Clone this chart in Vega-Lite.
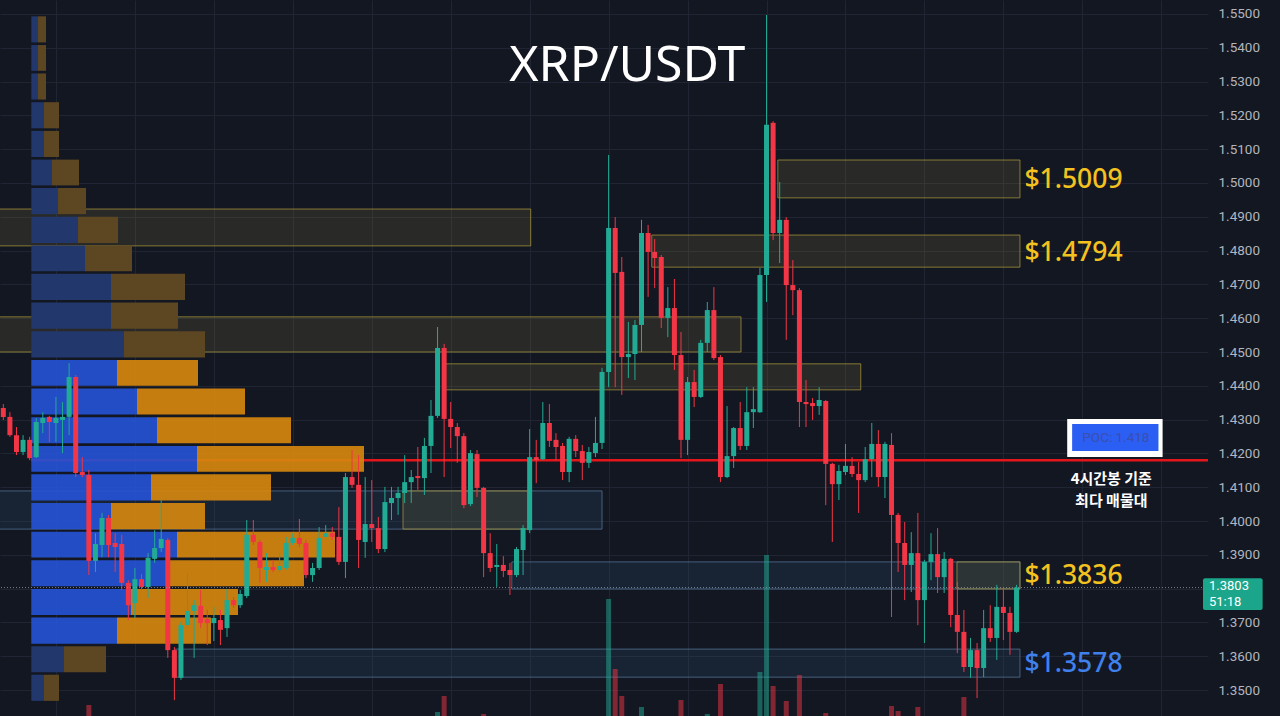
{
"$schema": "https://vega.github.io/schema/vega-lite/v6.json",
"width": 1208, "height": 716,
"autosize": {"type": "none"},
"padding": {"left": 0, "top": 0, "right": 72, "bottom": 0},
"background": "#131722",
"config": {"view": {"stroke": null}, "axis": {"domain": false, "ticks": false, "title": null}},
"datasets": {
"candles": [
{"i":0,"o":1.4334,"h":1.4346,"l":1.4299,"c":1.4308},
{"i":1,"o":1.4308,"h":1.4322,"l":1.4249,"c":1.4254},
{"i":2,"o":1.4254,"h":1.4278,"l":1.4195,"c":1.4204},
{"i":3,"o":1.4204,"h":1.4254,"l":1.4195,"c":1.4240},
{"i":4,"o":1.4240,"h":1.4249,"l":1.4180,"c":1.4186},
{"i":5,"o":1.4189,"h":1.4305,"l":1.4186,"c":1.4293},
{"i":6,"o":1.4290,"h":1.4322,"l":1.4260,"c":1.4305},
{"i":7,"o":1.4308,"h":1.4311,"l":1.4234,"c":1.4293},
{"i":8,"o":1.4290,"h":1.4367,"l":1.4234,"c":1.4305},
{"i":9,"o":1.4299,"h":1.4352,"l":1.4201,"c":1.4308},
{"i":10,"o":1.4308,"h":1.4467,"l":1.4254,"c":1.4426},
{"i":11,"o":1.4426,"h":1.4432,"l":1.4130,"c":1.4142},
{"i":12,"o":1.4145,"h":1.4189,"l":1.4130,"c":1.4136},
{"i":13,"o":1.4136,"h":1.4151,"l":1.3840,"c":1.3882},
{"i":14,"o":1.3882,"h":1.3964,"l":1.3849,"c":1.3932},
{"i":15,"o":1.3929,"h":1.4024,"l":1.3893,"c":1.4009},
{"i":16,"o":1.4009,"h":1.4018,"l":1.3893,"c":1.3929},
{"i":17,"o":1.3935,"h":1.3964,"l":1.3849,"c":1.3923},
{"i":18,"o":1.3932,"h":1.3959,"l":1.3796,"c":1.3817},
{"i":19,"o":1.3817,"h":1.3825,"l":1.3707,"c":1.3751},
{"i":20,"o":1.3757,"h":1.3861,"l":1.3713,"c":1.3828},
{"i":21,"o":1.3828,"h":1.3843,"l":1.3796,"c":1.3805},
{"i":22,"o":1.3805,"h":1.3905,"l":1.3772,"c":1.3891},
{"i":23,"o":1.3888,"h":1.3973,"l":1.3876,"c":1.3920},
{"i":24,"o":1.3920,"h":1.4062,"l":1.3908,"c":1.3947},
{"i":25,"o":1.3944,"h":1.3950,"l":1.3595,"c":1.3618},
{"i":26,"o":1.3618,"h":1.3627,"l":1.3470,"c":1.3536},
{"i":27,"o":1.3536,"h":1.3701,"l":1.3530,"c":1.3692},
{"i":28,"o":1.3692,"h":1.3846,"l":1.3683,"c":1.3734},
{"i":29,"o":1.3734,"h":1.3766,"l":1.3595,"c":1.3751},
{"i":30,"o":1.3749,"h":1.3796,"l":1.3683,"c":1.3698},
{"i":31,"o":1.3710,"h":1.3737,"l":1.3633,"c":1.3698},
{"i":32,"o":1.3698,"h":1.3746,"l":1.3645,"c":1.3713},
{"i":33,"o":1.3707,"h":1.3737,"l":1.3633,"c":1.3678},
{"i":34,"o":1.3683,"h":1.3799,"l":1.3657,"c":1.3766},
{"i":35,"o":1.3766,"h":1.3775,"l":1.3743,"c":1.3751},
{"i":36,"o":1.3751,"h":1.3796,"l":1.3743,"c":1.3784},
{"i":37,"o":1.3778,"h":1.4003,"l":1.3772,"c":1.3959},
{"i":38,"o":1.3959,"h":1.4003,"l":1.3929,"c":1.3938},
{"i":39,"o":1.3938,"h":1.3944,"l":1.3817,"c":1.3861},
{"i":40,"o":1.3855,"h":1.3905,"l":1.3820,"c":1.3864},
{"i":41,"o":1.3864,"h":1.3885,"l":1.3849,"c":1.3855},
{"i":42,"o":1.3855,"h":1.3905,"l":1.3849,"c":1.3867},
{"i":43,"o":1.3861,"h":1.3953,"l":1.3855,"c":1.3935},
{"i":44,"o":1.3935,"h":1.3964,"l":1.3929,"c":1.3950},
{"i":45,"o":1.3950,"h":1.4006,"l":1.3923,"c":1.3932},
{"i":46,"o":1.3935,"h":1.3944,"l":1.3831,"c":1.3840},
{"i":47,"o":1.3840,"h":1.3876,"l":1.3820,"c":1.3861},
{"i":48,"o":1.3861,"h":1.3982,"l":1.3855,"c":1.3950},
{"i":49,"o":1.3953,"h":1.3988,"l":1.3950,"c":1.3964},
{"i":50,"o":1.3964,"h":1.3982,"l":1.3944,"c":1.3953},
{"i":51,"o":1.3953,"h":1.4041,"l":1.3870,"c":1.3879},
{"i":52,"o":1.3879,"h":1.4142,"l":1.3831,"c":1.4130},
{"i":53,"o":1.4130,"h":1.4210,"l":1.4098,"c":1.4107},
{"i":54,"o":1.4107,"h":1.4195,"l":1.3861,"c":1.3944},
{"i":55,"o":1.3938,"h":1.4130,"l":1.3891,"c":1.3991},
{"i":56,"o":1.3991,"h":1.4121,"l":1.3938,"c":1.3979},
{"i":57,"o":1.3979,"h":1.4012,"l":1.3905,"c":1.3917},
{"i":58,"o":1.3917,"h":1.4101,"l":1.3908,"c":1.4056},
{"i":59,"o":1.4053,"h":1.4101,"l":1.4003,"c":1.4068},
{"i":60,"o":1.4068,"h":1.4101,"l":1.4018,"c":1.4083},
{"i":61,"o":1.4083,"h":1.4195,"l":1.4053,"c":1.4115},
{"i":62,"o":1.4115,"h":1.4151,"l":1.4053,"c":1.4130},
{"i":63,"o":1.4133,"h":1.4219,"l":1.4092,"c":1.4127},
{"i":64,"o":1.4127,"h":1.4246,"l":1.4077,"c":1.4222},
{"i":65,"o":1.4222,"h":1.4358,"l":1.4142,"c":1.4311},
{"i":66,"o":1.4311,"h":1.4574,"l":1.4305,"c":1.4512},
{"i":67,"o":1.4512,"h":1.4524,"l":1.4130,"c":1.4302},
{"i":68,"o":1.4302,"h":1.4352,"l":1.4216,"c":1.4278},
{"i":69,"o":1.4278,"h":1.4290,"l":1.4172,"c":1.4251},
{"i":70,"o":1.4251,"h":1.4260,"l":1.4038,"c":1.4047},
{"i":71,"o":1.4050,"h":1.4210,"l":1.4044,"c":1.4201},
{"i":72,"o":1.4198,"h":1.4210,"l":1.4071,"c":1.4098},
{"i":73,"o":1.4098,"h":1.4101,"l":1.3834,"c":1.3905},
{"i":74,"o":1.3905,"h":1.3964,"l":1.3849,"c":1.3861},
{"i":75,"o":1.3864,"h":1.3932,"l":1.3805,"c":1.3870},
{"i":76,"o":1.3870,"h":1.3896,"l":1.3834,"c":1.3852},
{"i":77,"o":1.3855,"h":1.3876,"l":1.3781,"c":1.3840},
{"i":78,"o":1.3840,"h":1.3923,"l":1.3834,"c":1.3917},
{"i":79,"o":1.3914,"h":1.3988,"l":1.3840,"c":1.3979},
{"i":80,"o":1.3973,"h":1.4272,"l":1.3964,"c":1.4189},
{"i":81,"o":1.4189,"h":1.4240,"l":1.4112,"c":1.4180},
{"i":82,"o":1.4183,"h":1.4352,"l":1.4180,"c":1.4290},
{"i":83,"o":1.4290,"h":1.4346,"l":1.4219,"c":1.4237},
{"i":84,"o":1.4240,"h":1.4260,"l":1.4180,"c":1.4219},
{"i":85,"o":1.4222,"h":1.4231,"l":1.4121,"c":1.4145},
{"i":86,"o":1.4145,"h":1.4249,"l":1.4115,"c":1.4243},
{"i":87,"o":1.4243,"h":1.4254,"l":1.4189,"c":1.4207},
{"i":88,"o":1.4207,"h":1.4225,"l":1.4121,"c":1.4172},
{"i":89,"o":1.4172,"h":1.4219,"l":1.4157,"c":1.4204},
{"i":90,"o":1.4201,"h":1.4308,"l":1.4189,"c":1.4231},
{"i":91,"o":1.4231,"h":1.4453,"l":1.4213,"c":1.4441},
{"i":92,"o":1.4441,"h":1.5083,"l":1.4396,"c":1.4867},
{"i":93,"o":1.4867,"h":1.4899,"l":1.4396,"c":1.4734},
{"i":94,"o":1.4737,"h":1.4781,"l":1.4373,"c":1.4485},
{"i":95,"o":1.4485,"h":1.4589,"l":1.4423,"c":1.4494},
{"i":96,"o":1.4494,"h":1.4595,"l":1.4417,"c":1.4580},
{"i":97,"o":1.4580,"h":1.4891,"l":1.4500,"c":1.4852},
{"i":98,"o":1.4852,"h":1.4876,"l":1.4663,"c":1.4796},
{"i":99,"o":1.4796,"h":1.4834,"l":1.4689,"c":1.4778},
{"i":100,"o":1.4781,"h":1.4787,"l":1.4571,"c":1.4601},
{"i":101,"o":1.4601,"h":1.4692,"l":1.4544,"c":1.4630},
{"i":102,"o":1.4630,"h":1.4716,"l":1.4447,"c":1.4491},
{"i":103,"o":1.4491,"h":1.4559,"l":1.4186,"c":1.4240},
{"i":104,"o":1.4240,"h":1.4426,"l":1.4195,"c":1.4411},
{"i":105,"o":1.4411,"h":1.4447,"l":1.4337,"c":1.4367},
{"i":106,"o":1.4367,"h":1.4536,"l":1.4364,"c":1.4527},
{"i":107,"o":1.4527,"h":1.4648,"l":1.4500,"c":1.4624},
{"i":108,"o":1.4624,"h":1.4692,"l":1.4476,"c":1.4482},
{"i":109,"o":1.4485,"h":1.4491,"l":1.4115,"c":1.4130},
{"i":110,"o":1.4130,"h":1.4340,"l":1.4127,"c":1.4192},
{"i":111,"o":1.4192,"h":1.4278,"l":1.4157,"c":1.4275},
{"i":112,"o":1.4275,"h":1.4352,"l":1.4210,"c":1.4222},
{"i":113,"o":1.4222,"h":1.4396,"l":1.4210,"c":1.4322},
{"i":114,"o":1.4322,"h":1.4396,"l":1.4275,"c":1.4331},
{"i":115,"o":1.4322,"h":1.4749,"l":1.4320,"c":1.4728},
{"i":116,"o":1.4728,"h":1.5497,"l":1.4648,"c":1.5172},
{"i":117,"o":1.5178,"h":1.5183,"l":1.4831,"c":1.4852},
{"i":118,"o":1.4852,"h":1.5003,"l":1.4763,"c":1.4891},
{"i":119,"o":1.4891,"h":1.4899,"l":1.4536,"c":1.4698},
{"i":120,"o":1.4698,"h":1.4772,"l":1.4609,"c":1.4683},
{"i":121,"o":1.4683,"h":1.4689,"l":1.4278,"c":1.4352},
{"i":122,"o":1.4352,"h":1.4417,"l":1.4278,"c":1.4346},
{"i":123,"o":1.4349,"h":1.4364,"l":1.4299,"c":1.4340},
{"i":124,"o":1.4340,"h":1.4396,"l":1.4314,"c":1.4358},
{"i":125,"o":1.4355,"h":1.4358,"l":1.4047,"c":1.4169},
{"i":126,"o":1.4169,"h":1.4172,"l":1.3938,"c":1.4109},
{"i":127,"o":1.4109,"h":1.4166,"l":1.4062,"c":1.4148},
{"i":128,"o":1.4145,"h":1.4228,"l":1.4136,"c":1.4163},
{"i":129,"o":1.4163,"h":1.4189,"l":1.4130,"c":1.4139},
{"i":130,"o":1.4139,"h":1.4175,"l":1.4024,"c":1.4121},
{"i":131,"o":1.4121,"h":1.4219,"l":1.4115,"c":1.4183},
{"i":132,"o":1.4183,"h":1.4290,"l":1.4130,"c":1.4228},
{"i":133,"o":1.4228,"h":1.4269,"l":1.4101,"c":1.4130},
{"i":134,"o":1.4130,"h":1.4234,"l":1.4068,"c":1.4228},
{"i":135,"o":1.4225,"h":1.4260,"l":1.3716,"c":1.4018},
{"i":136,"o":1.4018,"h":1.4024,"l":1.3849,"c":1.3935},
{"i":137,"o":1.3935,"h":1.3997,"l":1.3766,"c":1.3870},
{"i":138,"o":1.3870,"h":1.3967,"l":1.3790,"c":1.3905},
{"i":139,"o":1.3905,"h":1.4024,"l":1.3692,"c":1.3766},
{"i":140,"o":1.3766,"h":1.3885,"l":1.3639,"c":1.3879},
{"i":141,"o":1.3879,"h":1.3964,"l":1.3825,"c":1.3902},
{"i":142,"o":1.3902,"h":1.3979,"l":1.3787,"c":1.3834},
{"i":143,"o":1.3834,"h":1.3908,"l":1.3787,"c":1.3888},
{"i":144,"o":1.3888,"h":1.3891,"l":1.3686,"c":1.3722},
{"i":145,"o":1.3722,"h":1.3820,"l":1.3609,"c":1.3672},
{"i":146,"o":1.3672,"h":1.3737,"l":1.3553,"c":1.3568},
{"i":147,"o":1.3568,"h":1.3654,"l":1.3536,"c":1.3618},
{"i":148,"o":1.3618,"h":1.3639,"l":1.3476,"c":1.3565},
{"i":149,"o":1.3565,"h":1.3737,"l":1.3538,"c":1.3683},
{"i":150,"o":1.3683,"h":1.3751,"l":1.3642,"c":1.3654},
{"i":151,"o":1.3654,"h":1.3811,"l":1.3589,"c":1.3746},
{"i":152,"o":1.3746,"h":1.3802,"l":1.3648,"c":1.3728},
{"i":153,"o":1.3728,"h":1.3746,"l":1.3604,"c":1.3672},
{"i":154,"o":1.3672,"h":1.3811,"l":1.3669,"c":1.3803}
],
"volume": [
{"i":13,"v":5.5,"dir":"down"},{"i":66,"v":2,"dir":"up"},{"i":67,"v":10,"dir":"down"},{"i":73,"v":1,"dir":"down"},
{"i":92,"v":58.5,"dir":"up"},{"i":93,"v":23.5,"dir":"down"},{"i":94,"v":10,"dir":"down"},{"i":97,"v":4.5,"dir":"up"},
{"i":103,"v":8,"dir":"down"},{"i":107,"v":1,"dir":"up"},{"i":109,"v":16,"dir":"down"},{"i":115,"v":22,"dir":"up"},
{"i":116,"v":80.5,"dir":"up"},{"i":117,"v":15,"dir":"down"},{"i":119,"v":7.5,"dir":"down"},{"i":121,"v":20.5,"dir":"down"},
{"i":125,"v":1.5,"dir":"down"},{"i":135,"v":5,"dir":"down"},{"i":136,"v":2.5,"dir":"down"},{"i":139,"v":4.5,"dir":"down"},
{"i":146,"v":9.5,"dir":"down"}
],
"profile": [
{"top":1.5497,"bot":1.5412,"buy":67,"sell":80,"va":false},
{"top":1.5412,"bot":1.5328,"buy":67,"sell":80,"va":false},
{"top":1.5328,"bot":1.5243,"buy":67,"sell":80,"va":false},
{"top":1.5243,"bot":1.5158,"buy":127,"sell":150,"va":false},
{"top":1.5158,"bot":1.5073,"buy":127,"sell":150,"va":false},
{"top":1.5073,"bot":1.4989,"buy":207,"sell":270,"va":false},
{"top":1.4989,"bot":1.4904,"buy":267,"sell":280,"va":false},
{"top":1.4904,"bot":1.4819,"buy":467,"sell":400,"va":false},
{"top":1.4819,"bot":1.4735,"buy":537,"sell":470,"va":false},
{"top":1.4735,"bot":1.4650,"buy":797,"sell":740,"va":false},
{"top":1.4650,"bot":1.4565,"buy":797,"sell":670,"va":false},
{"top":1.4565,"bot":1.4480,"buy":927,"sell":810,"va":false},
{"top":1.4480,"bot":1.4396,"buy":857,"sell":810,"va":true},
{"top":1.4396,"bot":1.4311,"buy":1057,"sell":1080,"va":true},
{"top":1.4311,"bot":1.4226,"buy":1257,"sell":1340,"va":true},
{"top":1.4226,"bot":1.4142,"buy":1657,"sell":1670,"va":true},
{"top":1.4142,"bot":1.4057,"buy":1197,"sell":1200,"va":true},
{"top":1.4057,"bot":1.3972,"buy":797,"sell":940,"va":true},
{"top":1.3972,"bot":1.3888,"buy":1457,"sell":1580,"va":true},
{"top":1.3888,"bot":1.3803,"buy":1347,"sell":1380,"va":true},
{"top":1.3803,"bot":1.3718,"buy":997,"sell":1070,"va":true},
{"top":1.3718,"bot":1.3633,"buy":857,"sell":940,"va":true},
{"top":1.3633,"bot":1.3549,"buy":327,"sell":420,"va":false},
{"top":1.3549,"bot":1.3464,"buy":127,"sell":150,"va":false}
],
"zones": [
{"x1":0,"x2":80.25,"p1":1.4923,"p2":1.4814,"kind":"y"},
{"x1":0,"x2":111.95,"p1":1.4604,"p2":1.4500,"kind":"y"},
{"x1":0,"x2":91.0,"p1":1.4089,"p2":1.3976,"kind":"b"},
{"x1":61.0,"x2":79.85,"p1":1.4089,"p2":1.3976,"kind":"y"},
{"x1":67.3,"x2":130.0,"p1":1.4465,"p2":1.4388,"kind":"y"},
{"x1":98.5,"x2":154.0,"p1":1.4846,"p2":1.4751,"kind":"y"},
{"x1":117.5,"x2":154.0,"p1":1.5068,"p2":1.4956,"kind":"y"},
{"x1":77.4,"x2":154.0,"p1":1.3879,"p2":1.3799,"kind":"b"},
{"x1":144.5,"x2":154.0,"p1":1.3879,"p2":1.3799,"kind":"y"},
{"x1":26.6,"x2":154.0,"p1":1.3621,"p2":1.3538,"kind":"b"}
],
"poc": [{"x1":4.97,"x2":182.34,"p":1.418}],
"levels": [
{"t":"$1.5009","i":155.2,"p":1.5009},
{"t":"$1.4794","i":155.2,"p":1.4794},
{"t":"$1.3836","i":155.2,"p":1.3836},
{"t":"$1.3578","i":155.2,"p":1.3578}
]
},
"resolve": {"scale": {"x": "independent", "y": "independent"}},
"layer": [
{
"layer": [
{"data": {"name": "zones"},
 "mark": {"type": "rect", "clip": true, "strokeWidth": 1, "fillOpacity": 0.22, "strokeOpacity": 0.75},
 "encoding": {
  "x": {"field": "x1", "type": "quantitative", "scale": {"domain": [0.256, 182.34], "nice": false, "zero": false}, "axis": null},
  "x2": {"field": "x2"},
  "y": {"field": "p1", "type": "quantitative", "scale": {"domain": [1.34231, 1.55414], "nice": false, "zero": false}, "axis": null},
  "y2": {"field": "p2"},
  "fill": {"condition": {"test": "datum.kind == 'y'", "value": "#7a7440"}, "value": "#2f5178"},
  "stroke": {"condition": {"test": "datum.kind == 'y'", "value": "#a8963a"}, "value": "#557799"}
 }},
{"data": {"name": "poc"},
 "mark": {"type": "rule", "color": "#e3161c", "strokeWidth": 2.5, "clip": true},
 "encoding": {
  "x": {"field": "x1", "type": "quantitative", "axis": null},
  "x2": {"field": "x2"},
  "y": {"field": "p", "type": "quantitative", "axis": null}
 }}
]
},
{"data": {"name": "volume"},
 "mark": {"type": "bar", "orient": "vertical", "size": 5, "opacity": 0.5, "clip": true},
 "encoding": {
  "x": {"field": "i", "type": "quantitative", "scale": {"domain": [0.256, 182.34], "nice": false, "zero": false}, "axis": null},
  "y": {"field": "v", "type": "quantitative", "scale": {"domain": [0, 358], "nice": false}, "axis": null},
  "color": {"condition": {"test": "datum.dir == 'up'", "value": "#22ab94"}, "value": "#f23645"}
 }},
{"data": {"name": "profile"},
 "transform": [
  {"fold": ["buy", "sell"], "as": ["side", "v"]},
  {"stack": "v", "groupby": ["top"], "sort": [{"field": "side", "order": "ascending"}], "as": ["v0", "v1"]}
 ],
 "mark": {"type": "rect", "yOffset": 1.3, "y2Offset": -1.3},
 "encoding": {
  "x": {"field": "v0", "type": "quantitative", "scale": {"domain": [-313, 11767], "nice": false, "zero": false}, "axis": null},
  "x2": {"field": "v1"},
  "y": {"field": "top", "type": "quantitative", "scale": {"domain": [1.34231, 1.55414], "nice": false, "zero": false}, "axis": null},
  "y2": {"field": "bot"},
  "color": {"condition": [
     {"test": "datum.side == 'buy' && datum.va", "value": "#2552d4"},
     {"test": "datum.side == 'buy'", "value": "#22376c"},
     {"test": "datum.va", "value": "#d5870f"}
   ], "value": "#5d4622"},
  "opacity": {"condition": {"test": "datum.va", "value": 0.92}, "value": 1}
 }},
{
"layer": [
{"data": {"name": "candles"},
 "mark": {"type": "rule", "strokeWidth": 1, "clip": true},
 "encoding": {
  "x": {"field": "i", "type": "quantitative", "scale": {"domain": [0.256, 182.34], "nice": false, "zero": false},
        "axis": {"orient": "bottom", "values": [8,20,32,44,56,68,80,92,104,116,128,140,152,164,176], "tickCount": 40, "grid": true, "gridColor": "#212533", "labels": false, "ticks": false, "domain": false, "title": null}},
  "y": {"field": "l", "type": "quantitative", "scale": {"domain": [1.34231, 1.55414], "nice": false, "zero": false},
        "axis": {"orient": "right", "values": [1.35,1.36,1.37,1.38,1.39,1.40,1.41,1.42,1.43,1.44,1.45,1.46,1.47,1.48,1.49,1.50,1.51,1.52,1.53,1.54,1.55], "tickCount": 40, "format": ".4f", "labelExpr": "abs(datum.value - 1.38) < 0.0001 ? '' : datum.label", "grid": true, "gridColor": "#212533", "labelColor": "#b2b5be", "labelFont": "Roboto", "labelFontSize": 13.5, "labelPadding": 10, "labelAlign": "left", "labelBaseline": "middle", "labelOverlap": false, "labelBound": false, "labelFlush": false, "ticks": false, "domain": false, "title": null}},
  "y2": {"field": "h"},
  "color": {"condition": {"test": "datum.c >= datum.o", "value": "#22ab94"}, "value": "#f23645"}
 }},
{"data": {"name": "candles"},
 "mark": {"type": "bar", "orient": "vertical", "size": 5, "clip": true},
 "encoding": {
  "x": {"field": "i", "type": "quantitative"},
  "y": {"field": "o", "type": "quantitative"},
  "y2": {"field": "c"},
  "color": {"condition": {"test": "datum.c >= datum.o", "value": "#22ab94"}, "value": "#f23645"}
 }},
{"data": {"values": [{"p": 1.3803}]},
 "mark": {"type": "rule", "color": "#8f9aa6", "strokeWidth": 1, "strokeDash": [1, 2], "opacity": 0.8},
 "encoding": {"y": {"field": "p", "type": "quantitative"}}},
{"data": {"name": "levels"},
 "mark": {"type": "text", "align": "left", "baseline": "middle", "font": "Noto Sans", "fontSize": 26.5, "fontWeight": 500},
 "encoding": {
  "x": {"field": "i", "type": "quantitative"},
  "y": {"field": "p", "type": "quantitative"},
  "text": {"field": "t"},
  "color": {"condition": {"test": "datum.t == '$1.3578'", "value": "#3f80ea"}, "value": "#f3c21f"}
 }},
{"data": {"values": [{"x1": 161.7, "x2": 176.2, "p1": 1.43018, "p2": 1.41893}]},
 "mark": {"type": "rect", "color": "#ffffff"},
 "encoding": {"x": {"field": "x1", "type": "quantitative"}, "x2": {"field": "x2"}, "y": {"field": "p1", "type": "quantitative"}, "y2": {"field": "p2"}}},
{"data": {"values": [{"x1": 162.45, "x2": 175.57, "p1": 1.4287, "p2": 1.42071}]},
 "mark": {"type": "rect", "color": "#2b5ef2"},
 "encoding": {"x": {"field": "x1", "type": "quantitative"}, "x2": {"field": "x2"}, "y": {"field": "p1", "type": "quantitative"}, "y2": {"field": "p2"}}},
{"data": {"values": [{"t": "POC: 1.418", "i": 169.1, "p": 1.42456}]},
 "mark": {"type": "text", "align": "center", "baseline": "middle", "font": "Roboto", "fontSize": 13.5, "color": "#3a4fae"},
 "encoding": {"x": {"field": "i", "type": "quantitative"}, "y": {"field": "p", "type": "quantitative"}, "text": {"field": "t"}}},
{"data": {"values": [{"t": "4시간봉 기준", "i": 168.4, "p": 1.4125}, {"t": "최다 매물대", "i": 168.4, "p": 1.40584}]},
 "mark": {"type": "text", "align": "center", "baseline": "middle", "font": "Noto Sans CJK KR", "fontSize": 15, "fontWeight": 700, "color": "#ffffff"},
 "encoding": {"x": {"field": "i", "type": "quantitative"}, "y": {"field": "p", "type": "quantitative"}, "text": {"field": "t"}}},
{"data": {"values": [{"t": "XRP/USDT", "i": 94.84, "p": 1.53462}]},
 "mark": {"type": "text", "align": "center", "baseline": "middle", "font": "Noto Sans", "fontSize": 50, "fontWeight": 400, "color": "#ffffff"},
 "encoding": {"x": {"field": "i", "type": "quantitative"}, "y": {"field": "p", "type": "quantitative"}, "text": {"field": "t"}}},
{"data": {"values": [{"x1": 182.34, "x2": 191.4, "p1": 1.3831, "p2": 1.37367}]},
 "mark": {"type": "rect", "color": "#1ba58a", "clip": false, "cornerRadius": 2},
 "encoding": {"x": {"field": "x1", "type": "quantitative"}, "x2": {"field": "x2"}, "y": {"field": "p1", "type": "quantitative"}, "y2": {"field": "p2"}}},
{"data": {"values": [{"t": "1.3803", "i": 183.25, "p": 1.38077}, {"t": "51:18", "i": 183.25, "p": 1.3760}]},
 "mark": {"type": "text", "align": "left", "baseline": "middle", "font": "Roboto", "fontSize": 13, "color": "#ffffff", "clip": false},
 "encoding": {"x": {"field": "i", "type": "quantitative"}, "y": {"field": "p", "type": "quantitative"}, "text": {"field": "t"}}}
]
}
]
}
